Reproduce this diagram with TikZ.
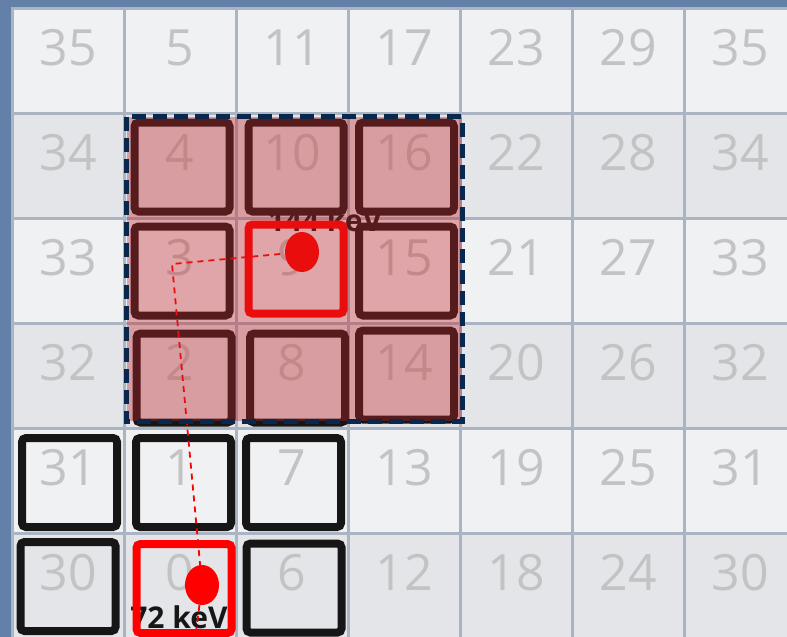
\documentclass[tikz,border=0pt]{standalone}
\usepackage{fontspec}
\setmainfont{Open Sans}
\usetikzlibrary{shapes.geometric}
\definecolor{bgblue}{RGB}{98,128,168}
\definecolor{gridline}{RGB}{170,180,195}
\definecolor{celllight}{RGB}{240,241,243}
\definecolor{celldark}{RGB}{227,229,233}
\definecolor{numgray}{RGB}{195,195,195}
\definecolor{boxblack}{RGB}{22,22,22}
\definecolor{hitred}{RGB}{255,0,0}
\definecolor{overlaycol}{RGB}{198,36,40}
\definecolor{navy}{RGB}{10,40,78}
\begin{document}
\begin{tikzpicture}[x=1pt,y=-1pt,
  numstyle/.style={text=numgray,font=\fontsize{50}{50}\selectfont,inner sep=0pt,anchor=base},
  sq/.style={rectangle,draw=boxblack,line width=8pt,rounded corners=4pt,inner sep=0pt,minimum width=95pt,minimum height=89pt},
  hitsq/.style={sq,draw=hitred},
  dot/.style={ellipse,fill=hitred,inner sep=0pt,minimum width=34pt,minimum height=40pt},
  kev/.style={text=boxblack,font=\bfseries\fontsize{30}{30}\selectfont,inner sep=0pt,anchor=base},
  trace/.style={draw=hitred,line width=1.8pt,dash pattern=on 6pt off 5pt},
  region/.style={rectangle,inner sep=0pt,fill=overlaycol,fill opacity=0.37,minimum width=335pt,minimum height=304pt},
  regionborder/.style={draw=navy,line width=5pt,dash pattern=on 14pt off 7pt}
]
\useasboundingbox (0,0) rectangle (787,637);
\clip (0,0) rectangle (787,637);
\fill[bgblue] (0,0) rectangle (787,637);
% cells
\foreach \i in {0,...,6}{
  \foreach \j in {0,...,5}{
    \pgfmathtruncatemacro{\odd}{mod(\j,2)}
    \ifnum\odd=0 \def\cc{celllight}\else\def\cc{celldark}\fi
    \fill[\cc] ({12+112*\i},{8+105*\j}) rectangle ({124+112*\i},{113+105*\j});
  }
}
% grid lines
\foreach \i in {0,...,7}{
  \draw[gridline,line width=3pt] ({12+112*\i},7) -- ({12+112*\i},640);
}
\foreach \j in {0,...,6}{
  \draw[gridline,line width=3pt] (10.5,{8+105*\j}) -- (790,{8+105*\j});
}
% numbers
\foreach \i in {0,...,6}{
  \foreach \j in {0,...,5}{
    \ifnum\i=0 \pgfmathtruncatemacro{\num}{35-\j}
    \else\ifnum\i=6 \pgfmathtruncatemacro{\num}{35-\j}
    \else \pgfmathtruncatemacro{\num}{6*(\i-1)+5-\j}\fi\fi
    \node[numstyle] (n\i\j) at ({68+112*\i},{8+105*\j+57}) {\num};
  }
}
% energy labels
\node[kev] (k1) at (325,231) {144 keV};
\node[kev] (k2) at (179,628) {72 keV};
% detector squares
\node[sq] (s4) at (182,167) {};
\node[sq] (s10) at (296,167) {};
\node[sq] (s16) at (406.5,167) {};
\node[sq] (s3) at (182,271) {};
\node[hitsq] (s9) at (296,269) {};
\node[sq] (s15) at (406.5,271) {};
\node[sq] (s2) at (184,378) {};
\node[sq] (s8) at (297.5,378) {};
\node[sq] (s14) at (406.5,375) {};
\node[sq] (s31) at (69.5,482.5) {};
\node[sq] (s1) at (183.5,482.5) {};
\node[sq] (s7) at (293.5,482.5) {};
\node[sq] (s30) at (68,586.5) {};
\node[hitsq] (s0) at (184,588.5) {};
\node[sq] (s6) at (294,588) {};
% photon trace
\coordinate (c3) at (172,264);
\coordinate (cend) at (196,632);
\draw[trace] (302,252) coordinate (p1) -- (c3) -- (202,585) coordinate (p2) -- (cend);
\node[dot] (d1) at (p1) {};
\node[dot] (d2) at (p2) {};
% selected region
\node[region] (sel) at (294.5,269) {};
\draw[regionborder] (sel.north west) rectangle (sel.south east);
\end{tikzpicture}
\end{document}
